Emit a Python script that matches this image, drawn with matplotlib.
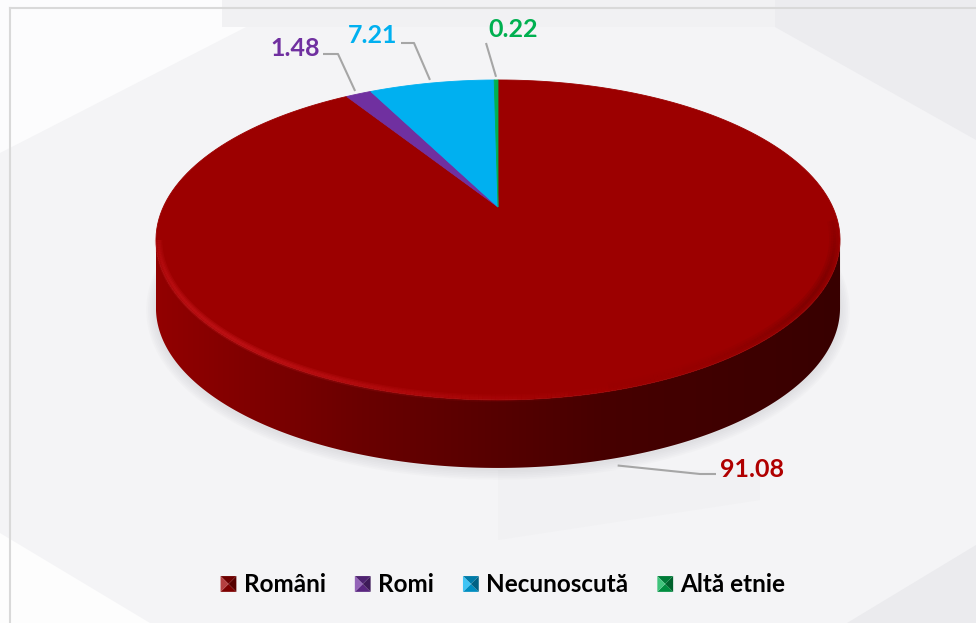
import numpy as np
import matplotlib
matplotlib.use("Agg")
import matplotlib.pyplot as plt
from matplotlib.patches import Polygon, Rectangle
from matplotlib.colors import LinearSegmentedColormap, to_rgb
from matplotlib.collections import LineCollection
from matplotlib.legend_handler import HandlerBase

# date
labels = ["Români", "Romi", "Necunoscută", "Altă etnie"]
values = [91.08, 1.48, 7.21, 0.22]
colors = ["#9C0000", "#7030A0", "#00B0F0", "#00B050"]
label_colors = ["#B00000", "#7030A0", "#00B0F0", "#00B050"]

W, H = 976, 623
CX, CY = 498, 207          # centre proiectat al fetei de sus
RX, RY = 334.7, 153.2
PERSP = 0.206              # perspectiva (partea din spate mai mica)
DEPTH = 68                 # grosimea discului, px

FONT = "Lato"


def project(theta, dy=0.0, r=1.0):
    """theta: unghi in sens orar de la ora 12 (radiani)."""
    u = r * np.sin(theta)
    v = r * np.cos(theta)
    w = 1 + PERSP * v
    return CX + RX * u / w, CY - RY * v / w + dy


def shade(c, f):
    c = np.array(to_rgb(c))
    if f >= 1:
        return tuple(c + (1 - c) * (f - 1))
    return tuple(c * f)


class BevelHandler(HandlerBase):
    def create_artists(self, legend, orig_handle, xdescent, ydescent,
                       width, height, fontsize, trans):
        col = orig_handle.get_facecolor()
        s = min(width, height)
        x0 = -xdescent + (width - s) / 2
        y0 = -ydescent + (height - s) / 2
        c = (x0 + s / 2, y0 + s / 2)
        pts = [(x0, y0), (x0 + s, y0), (x0 + s, y0 + s), (x0, y0 + s)]
        fac = [0.8, 0.55, 0.7, 1.25]   # jos, dreapta, sus, stanga
        arts = []
        for i in range(4):
            tri = Polygon([pts[i], pts[(i + 1) % 4], c], closed=True,
                          facecolor=shade(col, fac[i]), edgecolor="none",
                          transform=trans)
            arts.append(tri)
        return arts


fig = plt.figure(figsize=(W / 100, H / 100), dpi=100)
fig.patch.set_facecolor("#F4F4F6")
ax = fig.add_axes([0, 0, 1, 1])
ax.set_xlim(0, W)
ax.set_ylim(H, 0)
ax.axis("off")

# fundal: fete de hexagon, foarte discrete
bg = [
    ([(0, 0), (250, 0), (250, 25), (0, 153)], "#FCFCFD"),
    ([(222, 0), (775, 0), (775, 27), (222, 27)], "#F1F1F3"),
    ([(775, 0), (976, 0), (976, 140), (775, 27)], "#ECECEF"),
    ([(0, 533), (150, 623), (0, 623)], "#FDFDFD"),
    ([(976, 545), (847, 623), (976, 623)], "#EBEBEE"),
    ([(498, 470), (760, 470), (760, 500), (498, 540)], "#F1F1F3"),
]
for pts, c in bg:
    ax.add_patch(Polygon(pts, closed=True, facecolor=c, edgecolor="none", zorder=0))

ax.plot([10, W], [8, 8], color="#D9D9D9", lw=1.5, zorder=0.5)
ax.plot([10, 10], [8, H], color="#D9D9D9", lw=1.5, zorder=0.5)

# umbra sub disc
full = np.linspace(0, 2 * np.pi, 400)
sx, sy = project(full, DEPTH + 2)
for k in range(6):
    ax.add_patch(Polygon(np.column_stack([sx, sy]), closed=True,
                         facecolor="none", edgecolor="#A0A0A6",
                         lw=1.5 + 2.5 * k, alpha=0.04, zorder=1))

# peretele lateral (vizibil doar in fata)
t1 = np.arccos(-PERSP)
t2 = 2 * np.pi - t1
arc = np.linspace(t1, t2, 300)
tx, ty = project(arc)
bx, by = project(arc[::-1], DEPTH)
side = Polygon(np.column_stack([np.r_[tx, bx], np.r_[ty, by]]), closed=True,
               facecolor="none", edgecolor="none", zorder=2)
ax.add_patch(side)
side_cmap = LinearSegmentedColormap.from_list(
    "side", [(0, "#920000"), (0.3, "#6A0000"), (0.65, "#470000"), (1, "#380000")])
grad = side_cmap(np.linspace(0, 1, 512))[None, :, :3]
xl, xr = tx.min(), tx.max()
im = ax.imshow(grad, extent=(xl, xr, by.max() + 2, ty.min() - 2),
               aspect="auto", zorder=2, interpolation="bilinear")
im.set_clip_path(side)

# fata de sus: felii
cum = np.r_[0, np.cumsum(values)] / sum(values) * 2 * np.pi
for i in range(len(values)):
    th = np.linspace(cum[i], cum[i + 1], max(3, int(200 * values[i] / 100) + 3))
    px, py = project(th)
    ax.add_patch(Polygon(np.column_stack([np.r_[CX, px], np.r_[CY, py]]), closed=True,
                         facecolor=colors[i], edgecolor=colors[i], lw=0.6, zorder=3))

# bizou pe marginea din fata (dungi suprapuse -> margine moale)
th = np.linspace(np.radians(140), np.radians(258), 200)
hx, hy = project(th, r=0.993)
segs = [[(hx[j], hy[j]), (hx[j + 1], hy[j + 1])] for j in range(len(th) - 1)]
mid_t = np.degrees((th[:-1] + th[1:]) / 2)
a_hi = 0.22 * np.exp(-((mid_t - 225) / 40) ** 2)
for lw in (1.5, 3.5, 5.5):
    ax.add_collection(LineCollection(
        segs, colors=[(0.85, 0.12, 0.15, a) for a in a_hi], lw=lw, zorder=4))

th2 = np.linspace(np.radians(95), np.radians(165), 120)
dx, dyy = project(th2, r=0.985)
segs2 = [[(dx[j], dyy[j]), (dx[j + 1], dyy[j + 1])] for j in range(len(th2) - 1)]
mid2 = np.degrees((th2[:-1] + th2[1:]) / 2)
a_dk = 0.12 * np.exp(-((mid2 - 120) / 22) ** 2)
for lw in (2, 5, 8):
    ax.add_collection(LineCollection(
        segs2, colors=[(0.3, 0, 0, a) for a in a_dk], lw=lw, zorder=4))

# etichete cu linii de ghidare
mids = (cum[:-1] + cum[1:]) / 2
lead = [
    # (dy, cot, capat, text xy, ha)
    (DEPTH, (700, 474), (716, 474), (720, 477), "left"),
    (0, (338, 54), (323, 54), (320, 56), "right"),
    (0, (414, 43), (401, 43), (397, 43), "right"),
    (0, (486, 43), (486, 43), (513, 37), "center"),
]
for i, (dy, elbow, end, txy, ha) in enumerate(lead):
    sx0, sy0 = project(mids[i], dy, r=1.03)
    ax.plot([sx0, elbow[0], end[0]], [sy0, elbow[1], end[1]],
            color="#A6A6A6", lw=1.5, zorder=5, solid_capstyle="butt")
    ax.text(txy[0], txy[1], f"{values[i]:.2f}", color=label_colors[i],
            fontsize=18, fontweight="bold", family=FONT,
            ha=ha, va="baseline", zorder=6)

# legenda
handles = [Rectangle((0, 0), 1, 1, facecolor=c) for c in colors]
ax.legend(handles, labels, handler_map={Rectangle: BevelHandler()},
          ncol=4, loc="center", bbox_to_anchor=(503, 585),
          bbox_transform=ax.transData, frameon=False,
          prop=dict(family=FONT, weight="bold", size=17.5),
          handlelength=0.65, handleheight=0.65, handletextpad=0.3,
          columnspacing=1.2, borderpad=0)

ax.set_xlim(0, W)
ax.set_ylim(H, 0)
fig.savefig("out.png", dpi=100, facecolor=fig.get_facecolor())
